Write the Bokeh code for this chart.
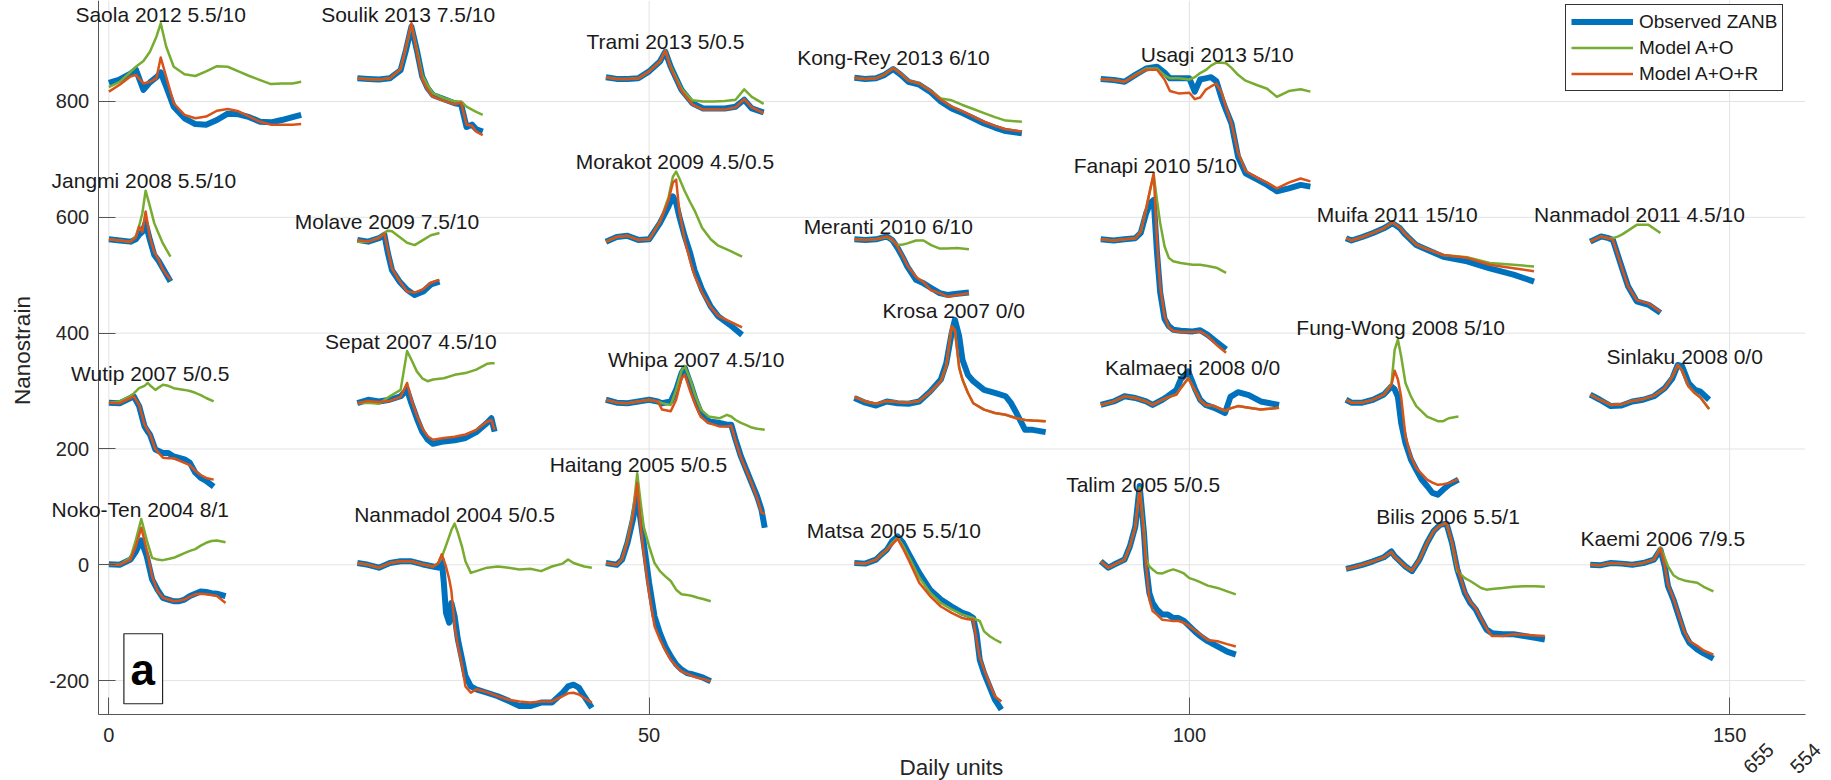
import math
from bokeh.plotting import figure
from bokeh.models import (Range1d, FixedTicker, Label, LabelSet, BoxAnnotation,
                          Legend, LegendItem, ColumnDataSource)
from bokeh.core.properties import value
from bokeh.embed import file_html
from bokeh.resources import INLINE

# ---------------- data ----------------
X_TICKS = [0, 50, 100, 150]
Y_TICKS = [-200, 0, 200, 400, 600, 800]
X_LIMITS = [-0.99, 157.0]
Y_LIMITS = [-259.0, 974.4]

SAOLA_X = [0, 1, 2, 2.5, 3.2, 3.8, 4.4, 4.8, 5.3, 6, 7, 8, 9, 10, 11, 12, 13, 14, 15, 16, 17, 17.8]
SAOLA_OBS = [832, 838, 848, 855, 820, 833, 842, 850, 826, 791, 771, 761, 760, 768, 779, 778, 773, 765, 764, 768, 773, 777]
SAOLA_AO = [825, 834, 851, 860, 870, 886, 912, 935, 895, 860, 847, 844, 852, 861, 860, 852, 844, 837, 830, 831, 831, 834]
SAOLA_AOR = [817, 829, 843, 846, 831, 834, 840, 876, 843, 797, 777, 771, 774, 784, 787, 783, 774, 765, 760, 760, 760, 761]

SOULIK_X = [23, 24, 25, 26, 27, 27.5, 28, 28.5, 29, 29.5, 30, 31, 32, 32.6, 33.1, 33.6, 34, 34.6]
SOULIK_OBS = [840, 839, 838, 840, 854, 889, 929, 889, 843, 823, 811, 804, 797, 795, 756, 760, 752, 748]
SOULIK_AO = [840, 839, 838, 840, 856, 893, 933, 890, 845, 828, 814, 806, 800, 800, 791, 786, 782, 777]
SOULIK_AOR = [840, 838, 838, 840, 856, 895, 935, 885, 838, 820, 808, 801, 795, 798, 760, 758, 748, 742]

TRAMI_X = [46, 47, 48, 49, 50, 51, 51.5, 52, 53, 54, 55, 56, 57, 58, 58.8, 59.5, 60.6]
TRAMI_OBS = [842, 839, 839, 840, 852, 869, 886, 860, 820, 797, 788, 788, 788, 791, 803, 788, 781]
TRAMI_AO = [842, 839, 839, 840, 852, 869, 888, 860, 822, 802, 800, 800, 801, 803, 821, 808, 796]
TRAMI_AOR = [842, 839, 839, 840, 852, 869, 888, 858, 818, 795, 786, 786, 786, 790, 804, 790, 780]

KONGREY_X = [69, 70, 71, 71.8, 72.6, 73.3, 74, 75, 76, 77, 78, 79, 80, 81, 82, 83, 84.5]
KONGREY_OBS = [841, 839, 840, 846, 856, 846, 834, 829, 817, 800, 788, 780, 771, 762, 755, 749, 745]
KONGREY_AO = [841, 839, 840, 847, 858, 848, 836, 831, 819, 805, 802, 794, 787, 780, 773, 767, 765]
KONGREY_AOR = [841, 839, 840, 847, 858, 848, 836, 831, 819, 803, 791, 783, 774, 765, 758, 752, 748]

USAGI_X = [91.8, 93, 94, 95, 96, 97, 97.7, 98.2, 99, 100, 100.5, 101, 101.5, 102, 102.5, 103, 103.4,
           103.9, 104.5, 105.2, 106.3, 107.2, 108.1, 109.2, 110.3, 111.2]
USAGI_OBS = [839, 837, 834, 846, 857, 860, 850, 840, 840, 840, 817, 838, 840, 842, 835, 805, 785,
             762, 705, 676, 665, 656, 645, 650, 656, 653]
USAGI_AO = [839, 837, 834, 846, 857, 857, 845, 840, 840, 838, 842, 849, 854, 862, 867, 867, 866,
            858, 846, 836, 828, 822, 808, 818, 821, 817]
USAGI_AOR = [839, 837, 834, 845, 855, 855, 838, 818, 814, 815, 804, 807, 820, 826, 831, 815, 790,
             762, 712, 680, 668, 660, 650, 660, 667, 662]

JANGMI_X = [0, 1, 2, 2.5, 2.8, 3.1, 3.4, 3.8, 4.2, 4.6, 5, 5.7]
JANGMI_OBS = [562, 560, 558, 562, 570, 575, 590, 561, 535, 525, 512, 489]
JANGMI_AO = [562, 560, 558, 568, 585, 607, 646, 619, 590, 572, 555, 532]
JANGMI_AOR = [562, 560, 558, 565, 584, 575, 610, 565, 540, 527, 510, 492]

MOLAVE_X = [23, 24, 25, 25.5, 25.8, 26.2, 26.9, 27.6, 28.3, 29.1, 29.8, 30.6]
MOLAVE_OBS = [561, 558, 564, 570, 540, 509, 489, 475, 466, 472, 484, 489]
MOLAVE_AO = [558, 558, 565, 573, 577, 576, 566, 556, 552, 561, 569, 573]
MOLAVE_AOR = [561, 558, 564, 572, 545, 512, 490, 472, 470, 476, 487, 492]

MORAKOT_X = [46, 47, 48, 49, 50, 51, 51.8, 52.2, 52.5, 52.8, 53.3, 53.8, 54.2, 54.9, 55.7, 56.4, 57.5, 58.6]
MORAKOT_OBS = [558, 566, 568, 561, 562, 590, 619, 636, 625, 601, 567, 538, 509, 475, 446, 429, 414, 397]
MORAKOT_AO = [558, 566, 568, 561, 562, 592, 635, 670, 679, 667, 645, 626, 612, 582, 562, 551, 542, 532]
MORAKOT_AOR = [558, 566, 568, 561, 562, 592, 630, 660, 665, 610, 560, 525, 500, 470, 445, 430, 420, 410]

MERANTI_X = [69, 70, 71, 72, 72.5, 73, 73.5, 73.9, 74.7, 75.4, 76.1, 76.9, 77.6, 78.5, 79.6]
MERANTI_OBS = [562, 561, 562, 567, 561, 547, 530, 515, 492, 486, 478, 469, 466, 468, 470]
MERANTI_AO = [562, 561, 562, 566, 560, 552, 553, 555, 560, 560, 552, 546, 546, 547, 545]
MERANTI_AOR = [562, 561, 562, 567, 562, 549, 532, 517, 497, 488, 474, 469, 463, 466, 469]

FANAPI_X = [91.8, 93, 94, 95, 95.5, 96, 96.4, 96.7, 97.0, 97.3, 97.7, 98.1, 98.5, 99.2, 100.3, 101,
            101.7, 102.5, 103.4]
FANAPI_OBS = [562, 560, 562, 564, 573, 607, 625, 630, 540, 470, 425, 412, 406, 404, 403, 405, 397, 385, 372]
FANAPI_AO = [562, 560, 562, 564, 575, 615, 650, 673, 630, 590, 550, 530, 524, 521, 518, 518, 516, 513, 504]
FANAPI_AOR = [562, 560, 562, 564, 575, 615, 650, 676, 560, 480, 430, 410, 404, 402, 402, 403, 395, 380, 366]

MUIFA_X = [114.5, 115, 116, 117, 118, 118.8, 119.5, 120, 121, 122, 123.5, 125.7, 127.8, 130, 131.9]
MUIFA_OBS = [564, 560, 566, 573, 581, 590, 581, 570, 552, 544, 532, 524, 512, 501, 489]
MUIFA_AO = [564, 560, 566, 573, 581, 591, 582, 571, 553, 545, 535, 531, 521, 518, 515]
MUIFA_AOR = [564, 560, 566, 573, 581, 591, 582, 571, 553, 545, 535, 530, 518, 512, 507]

NANMADOL11_X = [137.1, 138.1, 138.8, 139.2, 139.7, 140.1, 140.6, 141.4, 142.5, 143.6]
NANMADOL11_OBS = [558, 567, 564, 561, 532, 509, 481, 455, 449, 435]
NANMADOL11_AO = [558, 567, 564, 564, 567, 571, 577, 587, 587, 573]
NANMADOL11_AOR = [558, 567, 564, 561, 532, 509, 481, 457, 451, 437]

WUTIP_X = [0, 1, 2, 2.3, 2.8, 3.3, 3.6, 3.8, 4.3, 5, 5.5, 6, 7, 7.5, 8, 8.5, 9, 9.7]
WUTIP_OBS = [280, 279, 288, 291, 274, 239, 230, 225, 199, 193, 193, 187, 182, 176, 159, 150, 145, 135]
WUTIP_AO = [280, 282, 291, 296, 305, 309, 314, 310, 302, 311, 309, 305, 302, 300, 297, 293, 288, 282]
WUTIP_AOR = [280, 279, 288, 291, 276, 242, 232, 226, 200, 185, 184, 184, 176, 172, 162, 155, 150, 147]

SEPAT_X = [23, 24, 25, 26, 27, 27.6, 28, 28.5, 29, 29.5, 30, 31, 32, 33, 34, 35, 35.4, 35.7]
SEPAT_OBS = [279, 285, 282, 285, 291, 302, 279, 253, 230, 216, 209, 213, 215, 219, 229, 245, 253, 230]
SEPAT_AO = [279, 280, 278, 291, 302, 369, 354, 334, 322, 317, 320, 322, 328, 331, 337, 347, 348, 348]
SEPAT_AOR = [279, 283, 281, 283, 290, 314, 285, 258, 236, 222, 216, 219, 221, 225, 233, 247, 250, 233]

WHIPA_X = [46, 47, 48, 49, 50, 50.8, 51.2, 52, 52.5, 53, 53.3, 53.8, 54.3, 54.8, 55.5, 56.5, 57.2, 57.6,
           58, 58.5, 59, 59.5, 60, 60.4, 60.7]
WHIPA_OBS = [285, 280, 279, 282, 285, 282, 279, 282, 302, 331, 340, 314, 285, 262, 248, 245, 242, 242,
             216, 187, 164, 141, 118, 95, 64]
WHIPA_AO = [285, 280, 279, 282, 285, 282, 279, 276, 302, 335, 343, 320, 291, 268, 256, 253, 259, 256,
            250, 245, 241, 237, 235, 234, 233]
WHIPA_AOR = [285, 280, 279, 282, 285, 282, 268, 265, 285, 322, 328, 300, 275, 255, 245, 239, 239, 240,
             214, 185, 163, 140, 115, 90, 88]

KROSA_X = [69, 70, 71, 72, 73, 74, 75, 76, 77, 77.5, 78, 78.3, 78.7, 79, 79.5, 80, 81, 82, 83, 83.5,
           84, 84.3, 84.8, 85.5, 86.7]
KROSA_OBS = [288, 280, 275, 282, 279, 278, 282, 299, 320, 348, 400, 423, 394, 354, 328, 317, 302, 297,
             291, 279, 262, 251, 233, 233, 229]
KROSA_AO = [290, 282, 278, 283, 281, 280, 283, 298, 317, 343, 412, 405, 340, 320, 297, 279, 268, 262,
            259, 256, 253, 252, 250, 249, 248]
KROSA_AOR = [290, 282, 278, 283, 281, 280, 283, 298, 317, 343, 412, 405, 340, 320, 297, 279, 268, 262,
             259, 256, 253, 252, 250, 249, 248]

KALMAEGI_X = [91.8, 93, 94, 95, 96, 96.6, 97.5, 98, 98.8, 99.2, 99.9, 100.5, 101, 101.5, 102.3, 103.3,
              103.8, 104.5, 105.5, 106.6, 108.3]
KALMAEGI_OBS = [276, 282, 291, 288, 282, 276, 285, 291, 302, 320, 334, 305, 285, 276, 271, 262, 290,
                298, 293, 282, 276]
KALMAEGI_AO = [276, 282, 291, 288, 282, 276, 285, 289, 294, 305, 322, 302, 284, 276, 274, 266, 270,
               274, 271, 268, 271]
KALMAEGI_AOR = [276, 282, 291, 288, 282, 276, 285, 289, 294, 305, 322, 302, 284, 276, 274, 266, 270,
                274, 271, 268, 271]

FUNGWONG_X = [114.5, 115, 116, 117, 118, 118.7, 119.0, 119.3, 119.6, 120, 120.5, 121, 121.5, 122, 122.5,
              123, 123.5, 124, 124.9]
FUNGWONG_OBS = [285, 280, 280, 285, 294, 308, 303, 290, 245, 210, 182, 164, 147, 136, 124, 121, 130, 138, 147]
FUNGWONG_AO = [285, 280, 280, 285, 294, 312, 371, 389, 360, 314, 291, 274, 265, 256, 252, 248, 248, 253, 256]
FUNGWONG_AOR = [285, 280, 280, 285, 294, 310, 335, 320, 290, 222, 187, 167, 157, 147, 142, 138, 139, 141, 148]

SINLAKU_X = [137.1, 138, 139, 140, 141, 142, 143, 144, 144.7, 145.2, 145.6, 146.2, 146.8, 147.3, 148.1]
SINLAKU_OBS = [294, 285, 274, 275, 282, 285, 291, 305, 322, 345, 343, 314, 302, 299, 285]
SINLAKU_AO = [294, 285, 276, 277, 283, 286, 292, 305, 325, 345, 335, 308, 296, 289, 269]
SINLAKU_AOR = [294, 285, 276, 277, 283, 286, 292, 305, 325, 345, 335, 308, 296, 289, 269]

NOKOTEN_X = [0, 1, 2, 2.5, 3, 3.5, 4, 4.5, 5, 5.5, 6, 6.5, 7, 7.5, 8, 8.5, 9, 9.5, 10, 10.8]
NOKOTEN_OBS = [1, 0, 9, 23, 42, 15, -25, -43, -57, -60, -63, -63, -60, -54, -50, -46, -47, -49, -50, -54]
NOKOTEN_AO = [1, 0, 12, 43, 79, 43, 12, 9, 8, 10, 12, 16, 20, 24, 27, 33, 38, 41, 42, 39]
NOKOTEN_AOR = [1, 0, 9, 32, 64, 26, -20, -45, -57, -60, -63, -62, -60, -55, -51, -50, -51, -52, -54, -66]

NANMADOL04_X = [23, 24, 25, 26, 27, 28, 29, 30, 30.5, 30.8, 31.0, 31.2, 31.5, 31.7, 32, 32.3, 32.7, 33,
                33.5, 34, 35, 36, 37, 38, 39, 40, 41, 42, 42.5, 43, 43.5, 44, 44.7]
NANMADOL04_OBS = [3, 0, -5, 3, 6, 6, 1, -3, -5, 9, -31, -83, -100, -66, -89, -129, -164, -192,
                  -210, -215, -221, -227, -235, -244, -244, -238, -238, -221, -210, -207, -212, -227, -247]
NANMADOL04_AO = [3, 0, -5, 3, 6, 6, 1, -3, 3, 12, 23, 33, 49, 60, 71, 55, 30, 6,
                 -14, -11, -5, -3, -5, -8, -7, -11, -3, 2, 9, 3, 0, -3, -5]
NANMADOL04_AOR = [3, 0, -5, 3, 6, 6, 1, -3, 3, 18, 8, -3, -25, -45, -106, -140, -175, -210,
                  -221, -215, -220, -227, -233, -236, -238, -236, -236, -227, -222, -221, -224, -230, -238]

HAITANG_X = [46, 47, 47.5, 48, 48.5, 48.9, 49.2, 49.5, 50, 50.5, 51, 51.5, 52, 52.5, 53, 53.5, 54, 54.5, 55, 55.7]
HAITANG_OBS = [3, 0, 9, 38, 78, 120, 78, 38, -31, -89, -118, -141, -158, -172, -181, -187, -189, -192, -195, -201]
HAITANG_AO = [3, 0, 10, 42, 90, 158, 110, 66, 32, 3, -11, -20, -28, -43, -51, -52, -54, -57, -59, -63]
HAITANG_AOR = [3, 0, 10, 40, 85, 141, 70, 20, -49, -106, -129, -148, -164, -175, -184, -188, -192, -195, -197, -201]

MATSA_X = [69, 70, 71, 71.5, 72, 72.5, 73, 73.5, 74, 75, 76, 77, 78, 79, 79.5, 80, 80.3, 80.6, 81, 81.5, 82, 82.6]
MATSA_OBS = [3, 2, 9, 18, 26, 41, 49, 38, 20, -14, -43, -60, -72, -83, -86, -92, -118, -164, -187, -210, -233, -250]
MATSA_AO = [3, 2, 9, 18, 26, 38, 47, 33, 15, -22, -48, -66, -77, -86, -89, -92, -95, -97, -115, -123, -129, -135]
MATSA_AOR = [3, 2, 9, 18, 26, 35, 45, 28, 9, -31, -54, -72, -83, -92, -94, -95, -129, -160, -181, -205, -227, -236]

TALIM_X = [91.8, 92.5, 93, 94, 94.5, 95, 95.4, 95.8, 96, 96.3, 96.6, 97, 97.5, 98, 98.5, 99, 99.5, 100,
           100.5, 101, 101.7, 102.6, 103.5, 104.3]
TALIM_OBS = [6, -5, 0, 9, 32, 66, 136, 55, -3, -49, -66, -77, -86, -86, -92, -92, -97, -106,
             -115, -123, -132, -141, -150, -155]
TALIM_AO = [6, -5, 0, 9, 32, 66, 133, 60, 10, -3, -8, -14, -15, -11, -8, -11, -15, -23,
            -26, -30, -36, -40, -46, -51]
TALIM_AOR = [6, -5, 0, 9, 32, 66, 130, 50, -3, -60, -80, -86, -95, -96, -97, -97, -100, -106,
             -113, -120, -130, -132, -137, -141]

BILIS_X = [114.5, 115, 116, 117, 118, 118.7, 119, 120, 120.6, 121.3, 122, 122.6, 123.2, 123.8, 124.3,
           124.8, 125.5, 126, 126.5, 127, 127.5, 128, 129, 130, 131, 132, 132.9]
BILIS_OBS = [-7, -5, 0, 6, 13, 23, 15, -3, -11, 9, 38, 58, 69, 71, 38, -8, -49, -66, -77, -95, -112,
             -118, -120, -120, -123, -126, -129]
BILIS_AO = [-7, -5, 0, 6, 13, 22, 14, -3, -10, 9, 38, 58, 68, 72, 38, -11, -23, -28, -34, -40, -43,
            -42, -40, -38, -37, -37, -38]
BILIS_AOR = [-7, -5, 0, 6, 13, 22, 14, -3, -10, 9, 38, 58, 68, 72, 40, -5, -47, -64, -75, -93, -110,
             -123, -123, -120, -121, -122, -123]

KAEMI_X = [137.1, 138, 139, 140, 141, 142, 143, 143.6, 144, 144.3, 144.8, 145.3, 145.8, 146.3, 147, 147.6, 148.5]
KAEMI_OBS = [0, -1, 3, 2, 0, 3, 9, 26, -3, -37, -60, -89, -118, -135, -146, -153, -162]
KAEMI_AO = [0, -1, 3, 2, 0, 3, 9, 30, 12, -3, -18, -24, -27, -29, -31, -38, -46]
KAEMI_AOR = [0, -1, 3, 2, 0, 3, 9, 28, -2, -35, -58, -87, -115, -132, -140, -148, -155]

EVENT_NAMES = ["Saola 2012 5.5/10", "Soulik 2013 7.5/10", "Trami 2013 5/0.5", "Kong-Rey 2013 6/10",
               "Usagi 2013 5/10", "Jangmi 2008 5.5/10", "Molave 2009 7.5/10", "Morakot 2009 4.5/0.5",
               "Meranti 2010 6/10", "Fanapi 2010 5/10", "Muifa 2011 15/10", "Nanmadol 2011 4.5/10",
               "Wutip 2007 5/0.5", "Sepat 2007 4.5/10", "Whipa 2007 4.5/10", "Krosa 2007 0/0",
               "Kalmaegi 2008 0/0", "Fung-Wong 2008 5/10", "Sinlaku 2008 0/0", "Noko-Ten 2004 8/1",
               "Nanmadol 2004 5/0.5", "Haitang 2005 5/0.5", "Matsa 2005 5.5/10", "Talim 2005 5/0.5",
               "Bilis 2006 5.5/1", "Kaemi 2006 7/9.5"]
LABEL_X = [-3.1, 19.65, 44.2, 63.7, 95.5, -5.3, 17.2, 43.2, 64.3, 89.3, 111.8, 131.9,
           -3.5, 20.0, 46.2, 71.6, 92.2, 109.9, 138.6, -5.3, 22.7, 40.8, 64.6, 88.6, 117.3, 136.2]
LABEL_Y = [950, 950, 903, 876, 882, 663, 593, 696, 584, 690, 605, 605,
           330, 385, 355, 439, 340, 410, 360, 96, 87, 174, 60, 138, 84, 46]

SERIES_NAMES = ["Observed ZANB", "Model A+O", "Model A+O+R"]

EVENTS = [
    (SAOLA_X, SAOLA_OBS, SAOLA_AO, SAOLA_AOR),
    (SOULIK_X, SOULIK_OBS, SOULIK_AO, SOULIK_AOR),
    (TRAMI_X, TRAMI_OBS, TRAMI_AO, TRAMI_AOR),
    (KONGREY_X, KONGREY_OBS, KONGREY_AO, KONGREY_AOR),
    (USAGI_X, USAGI_OBS, USAGI_AO, USAGI_AOR),
    (JANGMI_X, JANGMI_OBS, JANGMI_AO, JANGMI_AOR),
    (MOLAVE_X, MOLAVE_OBS, MOLAVE_AO, MOLAVE_AOR),
    (MORAKOT_X, MORAKOT_OBS, MORAKOT_AO, MORAKOT_AOR),
    (MERANTI_X, MERANTI_OBS, MERANTI_AO, MERANTI_AOR),
    (FANAPI_X, FANAPI_OBS, FANAPI_AO, FANAPI_AOR),
    (MUIFA_X, MUIFA_OBS, MUIFA_AO, MUIFA_AOR),
    (NANMADOL11_X, NANMADOL11_OBS, NANMADOL11_AO, NANMADOL11_AOR),
    (WUTIP_X, WUTIP_OBS, WUTIP_AO, WUTIP_AOR),
    (SEPAT_X, SEPAT_OBS, SEPAT_AO, SEPAT_AOR),
    (WHIPA_X, WHIPA_OBS, WHIPA_AO, WHIPA_AOR),
    (KROSA_X, KROSA_OBS, KROSA_AO, KROSA_AOR),
    (KALMAEGI_X, KALMAEGI_OBS, KALMAEGI_AO, KALMAEGI_AOR),
    (FUNGWONG_X, FUNGWONG_OBS, FUNGWONG_AO, FUNGWONG_AOR),
    (SINLAKU_X, SINLAKU_OBS, SINLAKU_AO, SINLAKU_AOR),
    (NOKOTEN_X, NOKOTEN_OBS, NOKOTEN_AO, NOKOTEN_AOR),
    (NANMADOL04_X, NANMADOL04_OBS, NANMADOL04_AO, NANMADOL04_AOR),
    (HAITANG_X, HAITANG_OBS, HAITANG_AO, HAITANG_AOR),
    (MATSA_X, MATSA_OBS, MATSA_AO, MATSA_AOR),
    (TALIM_X, TALIM_OBS, TALIM_AO, TALIM_AOR),
    (BILIS_X, BILIS_OBS, BILIS_AO, BILIS_AOR),
    (KAEMI_X, KAEMI_OBS, KAEMI_AO, KAEMI_AOR),
]

# ---------------- styling ----------------
FONT = "Liberation Sans"
BLUE = "#0072BD"
GREEN = "#77AC30"
ORANGE = "#D95319"
AXIS_COL = "#555555"
GRID_COL = "#e3e3e3"
TEXT_COL = "#1a1a1a"

# the frame fills the whole canvas; axes are placed at fixed data locations
p = figure(width=1831, height=780, output_backend="svg", toolbar_location=None,
           x_range=Range1d(-10.03, 159.43), y_range=Range1d(-372.5, 974.4),
           min_border_left=0, min_border_right=0, min_border_top=0, min_border_bottom=0,
           background_fill_color="white", border_fill_color="white")
p.outline_line_color = None
p.xgrid.visible = False
p.ygrid.visible = False

# grid lines, bounded to the axes box
hg = ColumnDataSource(dict(x0=[X_LIMITS[0]] * len(Y_TICKS), x1=[X_LIMITS[1]] * len(Y_TICKS),
                           y0=Y_TICKS, y1=Y_TICKS))
vg = ColumnDataSource(dict(x0=X_TICKS, x1=X_TICKS,
                           y0=[Y_LIMITS[0]] * len(X_TICKS), y1=[Y_LIMITS[1]] * len(X_TICKS)))
p.segment("x0", "y0", "x1", "y1", source=hg, line_color=GRID_COL, line_width=1)
p.segment("x0", "y0", "x1", "y1", source=vg, line_color=GRID_COL, line_width=1)

p.xaxis.fixed_location = Y_LIMITS[0]
p.yaxis.fixed_location = X_LIMITS[0]
p.xaxis.bounds = (X_LIMITS[0], X_LIMITS[1])
p.yaxis.bounds = (Y_LIMITS[0], Y_LIMITS[1])
for ax, ticks in ((p.xaxis, X_TICKS), (p.yaxis, Y_TICKS)):
    ax.ticker = FixedTicker(ticks=ticks)
    ax.major_tick_in = 17
    ax.major_tick_out = 0
    ax.minor_tick_in = 0
    ax.minor_tick_out = 0
    ax.axis_line_color = AXIS_COL
    ax.major_tick_line_color = AXIS_COL
    ax.major_label_text_font = FONT
    ax.major_label_text_font_size = "20px"
    ax.major_label_text_color = "#262626"
p.xaxis.major_label_standoff = 13
p.yaxis.major_label_standoff = 9
p.yaxis.major_label_overrides = {t: str(t) for t in Y_TICKS}

first = None
for xs, obs, ao, aor in EVENTS:
    src = ColumnDataSource(dict(x=xs, obs=obs, ao=ao, aor=aor))
    r1 = p.line("x", "obs", source=src, line_color=BLUE, line_width=6, line_join="round")
    r2 = p.line("x", "ao", source=src, line_color=GREEN, line_width=2.5, line_join="round")
    r3 = p.line("x", "aor", source=src, line_color=ORANGE, line_width=2.5, line_join="round")
    if first is None:
        first = (r1, r2, r3)

labels = LabelSet(x="x", y="y", text="text",
                  source=ColumnDataSource(dict(x=LABEL_X, y=LABEL_Y, text=EVENT_NAMES)),
                  text_font=value(FONT), text_font_size=value("21px"), text_color=TEXT_COL,
                  text_align="left", text_baseline="middle")
p.add_layout(labels)

legend = Legend(items=[LegendItem(label=SERIES_NAMES[i], renderers=[first[i]]) for i in range(3)],
                location=(1565, 689), orientation="vertical",
                label_text_font=FONT, label_text_font_size="19px", label_text_color=TEXT_COL,
                glyph_width=62, glyph_height=23, label_height=23, label_standoff=6,
                padding=5, spacing=3, margin=0,
                border_line_color="#333333", border_line_width=1, border_line_alpha=1.0,
                background_fill_color="white", background_fill_alpha=1.0)
p.add_layout(legend)

box = BoxAnnotation(left=1.39, right=4.97, bottom=-240.0, top=-119.1,
                    fill_color="white", fill_alpha=1.0,
                    line_color="#222222", line_alpha=1.0, line_width=1.2)
p.add_layout(box)
p.add_layout(Label(x=3.14, y=-181.0, text="a", text_font=FONT, text_font_size="44px",
                   text_font_style="bold", text_color="black",
                   text_align="center", text_baseline="middle"))

p.add_layout(Label(x=77.98, y=-350.0, text="Daily units", text_font=FONT, text_font_size="22.5px",
                   text_color="#262626", text_align="center", text_baseline="middle"))
p.add_layout(Label(x=-8.03, y=370.0, text="Nanostrain", angle=math.pi / 2, text_font=FONT,
                   text_font_size="22.5px", text_color="#262626",
                   text_align="center", text_baseline="middle"))
p.add_layout(Label(x=152.67, y=-334.0, text="655", angle=math.pi / 4, text_font=FONT,
                   text_font_size="20px", text_color="#262626",
                   text_align="center", text_baseline="middle"))
p.add_layout(Label(x=157.0, y=-334.0, text="554", angle=math.pi / 4, text_font=FONT,
                   text_font_size="20px", text_color="#262626",
                   text_align="center", text_baseline="middle"))

open("out.html", "w").write(file_html(p, INLINE))
